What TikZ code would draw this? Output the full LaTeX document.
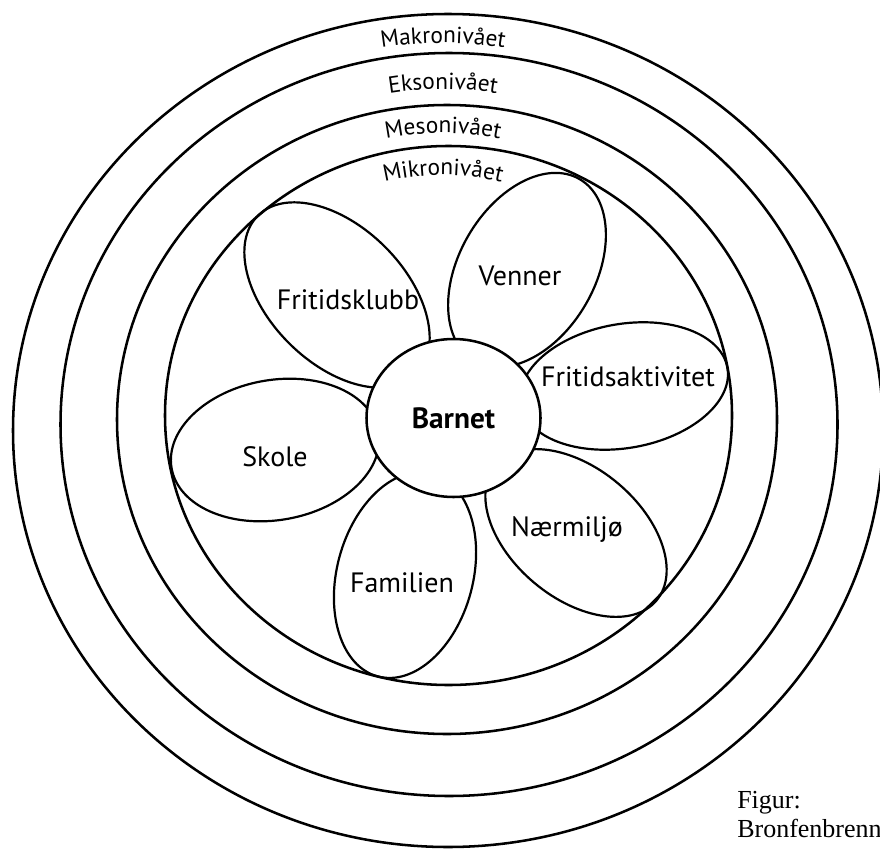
\documentclass[tikz,border=0pt]{standalone}
\usepackage{fontspec}
\setmainfont{PT Sans}
\newfontfamily\figfont{Liberation Serif}
\usetikzlibrary{shapes.geometric}
\usetikzlibrary{decorations.text}

\begin{document}
\begin{tikzpicture}[x=0.75pt, y=-0.75pt,
    ring/.style={line width=1.9pt},
    petal/.style 2 args={ellipse, draw, line width=1.65pt, inner sep=0pt,
        minimum width=#1*1.5pt, minimum height=#2*1.5pt},
    lbl/.style={font=\fontsize{21}{25}\selectfont},
    capt/.style={font=\figfont\fontsize{19.5}{23}\selectfont, inner sep=0pt}]
    \useasboundingbox (0,0) rectangle (880,848);
    \clip (0,0) rectangle (880,848);

    % the four levels
    \draw[ring] (448,430.5) ellipse [x radius=435, y radius=416.5];
    \draw[ring] (449,424.5) ellipse [x radius=388.5, y radius=371.5];
    \draw[ring] (447,419.5) ellipse [x radius=330, y radius=314.5];
    \draw[ring] (448.5,415.5) ellipse [x radius=283.5, y radius=269.5];

    \path[decorate, decoration={text along path, text align=center,
        text={|\fontsize{17.5}{20}\selectfont|Makronivået}}]
        (443,425) ++(240:382) arc [start angle=240, end angle=300, radius=382];
    \path[decorate, decoration={text along path, text align=center,
        text={|\fontsize{17.5}{20}\selectfont|Eksonivået}}]
        (443,425) ++(240:336) arc [start angle=240, end angle=300, radius=336];
    \path[decorate, decoration={text along path, text align=center,
        text={|\fontsize{17.5}{20}\selectfont|Mesonivået}}]
        (443,425) ++(240:292) arc [start angle=240, end angle=300, radius=292];
    \path[decorate, decoration={text along path, text align=center,
        text={|\fontsize{17.5}{20}\selectfont|Mikronivået}}]
        (443,425) ++(240:250) arc [start angle=240, end angle=300, radius=250];

    % petals
    \node[petal={105}{68}, rotate=60] (venner) at (527,270) {};
    \node[petal={105}{62}, rotate=10] (aktivitet) at (624,386) {};
    \node[petal={105}{65}, rotate=-40] (miljo) at (576,533) {};
    \node[petal={105}{68}, rotate=75] (familien) at (405,575) {};
    \node[petal={105}{70}, rotate=10] (skole) at (275,450) {};
    \node[petal={112}{68}, rotate=-45] (klubb) at (337,295) {};

    \node[lbl] (tvenner) at (520,276) {Venner};
    \node[lbl] (taktivitet) at (628,377) {Fritidsaktivitet};
    \node[lbl] (tmiljo) at (567,530) {Nærmiljø};
    \node[lbl] (tfamilien) at (402,583) {Familien};
    \node[lbl] (tskole) at (275,457) {Skole};
    \node[lbl] (tklubb) at (348,300) {Fritidsklubb};

    % the child in the middle
    \node[ellipse, draw, fill=white, line width=1.9pt, inner sep=0pt,
        minimum width=174*0.75pt, minimum height=158*0.75pt,
        font=\bfseries\fontsize{22}{26}\selectfont] (barnet) at (453.5,418) {Barnet};

    \node[capt, anchor=base west] (figur) at (737,808) {Figur:};
    \node[capt, anchor=base west] (kilde) at (737,837) {Bronfenbrenner};
\end{tikzpicture}
\end{document}
